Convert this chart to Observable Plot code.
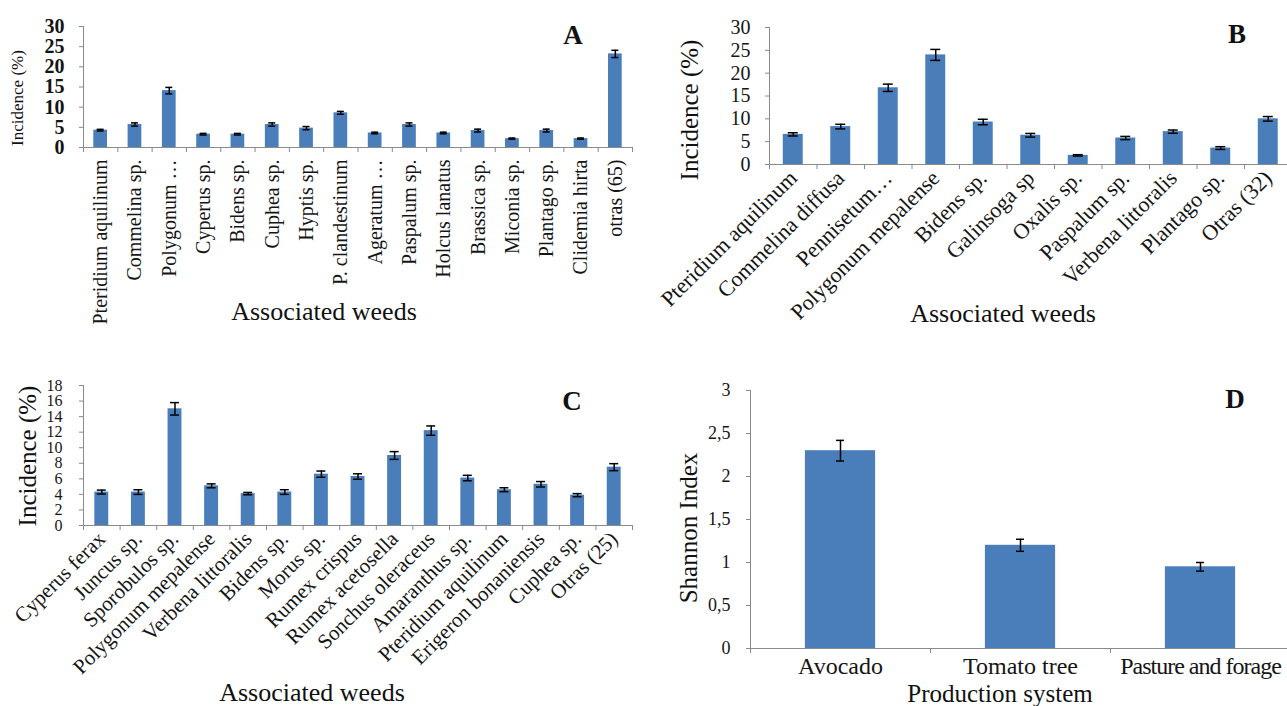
<!DOCTYPE html>
<html><head><meta charset="utf-8">
<script src="https://cdn.jsdelivr.net/npm/d3@7"></script>
<script src="https://cdn.jsdelivr.net/npm/@observablehq/plot@0.6"></script>
<style>
html,body{margin:0;padding:0;background:#fff;overflow:hidden;}
#root{position:relative;width:1287px;height:706px;overflow:hidden;background:#fff;}
#root, #root *, #root svg text{font-family:'Liberation Serif','Times New Roman',serif !important;}
.panel{position:absolute;}
.lab{position:absolute;white-space:nowrap;color:#111;line-height:1;}
</style></head><body><div id="root"></div>
<script>
// ---- Panel A: avocado weeds ----
const weedsA = ["Pteridium aquilinum","Commelina sp.","Polygonum …","Cyperus sp.","Bidens sp.","Cuphea sp.","Hyptis sp.","P. clandestinum","Ageratum …","Paspalum sp.","Holcus lanatus","Brassica sp.","Miconia sp.","Plantago sp.","Clidemia hirta","otras (65)"];
const incidenceA = [4.3, 5.7, 14.1, 3.3, 3.3, 5.7, 4.8, 8.6, 3.6, 5.7, 3.6, 4.2, 2.2, 4.2, 2.2, 23.2];
const errorA = [0.2, 0.4, 0.8, 0.2, 0.2, 0.4, 0.4, 0.35, 0.2, 0.4, 0.2, 0.35, 0.15, 0.35, 0.15, 0.9];
const ticksA = [0, 5, 10, 15, 20, 25, 30];

// ---- Panel B: tomato tree weeds ----
const weedsB = ["Pteridium aquilinum","Commelina diffusa","Pennisetum…","Polygonum mepalense","Bidens sp.","Galinsoga sp","Oxalis sp.","Paspalum sp.","Verbena littoralis","Plantago sp.","Otras (32)"];
const incidenceB = [6.6, 8.3, 16.8, 24.0, 9.3, 6.4, 2.0, 5.8, 7.2, 3.6, 10.0];
const errorB = [0.35, 0.5, 0.8, 1.2, 0.6, 0.4, 0.15, 0.35, 0.35, 0.3, 0.5];
const ticksB = [0, 5, 10, 15, 20, 25, 30];

// ---- Panel C: pasture and forage weeds ----
const weedsC = ["Cyperus ferax","Juncus sp.","Sporobulos sp.","Polygonum mepalense","Verbena littoralis","Bidens sp.","Morus sp.","Rumex crispus","Rumex acetosella","Sonchus oleraceus","Amaranthus sp.","Pteridium aquilinum","Erigeron bonaniensis","Cuphea sp.","Otras (25)"];
const incidenceC = [4.3, 4.3, 15.0, 5.1, 4.1, 4.3, 6.6, 6.3, 9.0, 12.2, 6.1, 4.6, 5.3, 3.9, 7.5];
const errorC = [0.25, 0.3, 0.8, 0.25, 0.15, 0.3, 0.4, 0.35, 0.5, 0.6, 0.35, 0.25, 0.35, 0.2, 0.45];
const ticksC = [0, 2, 4, 6, 8, 10, 12, 14, 16, 18];

// ---- Panel D: Shannon index per production system ----
const systemsD = ["Avocado","Tomato tree","Pasture and forage"];
const shannonD = [2.3, 1.2, 0.95];
const errorD = [0.12, 0.07, 0.05];
const ticksD = [0, 0.5, 1, 1.5, 2, 2.5, 3];

const SERIF = "'Liberation Serif','Times New Roman',serif";
const BLUE = "#4a7ebb";
const AXIS = "#8a8a8a";
const root = document.getElementById("root");

function barPanel(o) {
  const n = o.cats.length;
  const rows = o.cats.map((c, i) => ({i, c, v: o.vals[i], e: o.errs[i]}));
  const fw = o.width - o.ml - o.mr;
  const cap = o.capPx / (fw / n);
  const half = o.barFrac / 2;
  const svg = Plot.plot({
    width: o.width, height: o.height,
    marginLeft: o.ml, marginRight: o.mr, marginTop: o.mt, marginBottom: o.mb,
    style: {fontFamily: SERIF, background: "transparent", overflow: "visible"},
    x: {type: "linear", domain: [0, n]},
    y: {domain: [0, o.yTicks[o.yTicks.length - 1]]},
    marks: [
      Plot.rectY(rows, {x1: d => d.i + 0.5 - half, x2: d => d.i + 0.5 + half, y1: 0, y2: "v", fill: BLUE}),
      Plot.ruleX([0], {stroke: AXIS}),
      Plot.ruleY([0], {stroke: AXIS}),
      Plot.axisY({ticks: o.yTicks, tickSize: 4, tickPadding: o.ytp, tickFormat: o.yFormat, fontSize: o.yFont, fontWeight: o.yWeight, stroke: AXIS, fill: "#151515", label: null}),
      Plot.axisX({ticks: d3.range(n + 1), tickSize: 5, tickFormat: () => "", stroke: AXIS, label: null}),
      Plot.axisX({ticks: d3.range(n).map(i => i + 0.5), tickSize: 0, tickPadding: o.xtp, tickRotate: o.rot, tickFormat: t => o.cats[Math.floor(t)], fontSize: o.xFont, fill: "#151515", label: null}),
      Plot.ruleX(rows, {x: d => d.i + 0.5, y1: d => d.v - d.e, y2: d => d.v + d.e, stroke: "#000", strokeWidth: 1.5}),
      Plot.ruleY(rows, {y: d => d.v + d.e, x1: d => d.i + 0.5 - cap, x2: d => d.i + 0.5 + cap, stroke: "#000", strokeWidth: 1.5}),
      Plot.ruleY(rows, {y: d => d.v - d.e, x1: d => d.i + 0.5 - cap, x2: d => d.i + 0.5 + cap, stroke: "#000", strokeWidth: 1.5})
    ]
  });
  svg.classList.add("panel");
  svg.style.left = o.left + "px";
  svg.style.top = o.top + "px";
  if (o.condense) {
    svg.querySelectorAll("text").forEach(t => {
      if (o.condense[t.textContent] != null) t.style.letterSpacing = o.condense[t.textContent] + "px";
    });
  }
  root.appendChild(svg);
}

function lab(text, cx, cy, size, rot, weight) {
  const d = document.createElement("div");
  d.className = "lab";
  d.textContent = text;
  d.style.fontSize = size + "px";
  d.style.fontWeight = weight || "normal";
  d.style.left = cx + "px";
  d.style.top = cy + "px";
  d.style.transform = `translate(-50%,-50%) rotate(${rot || 0}deg)`;
  root.appendChild(d);
}

barPanel({cats: weedsA, vals: incidenceA, errs: errorA, yTicks: ticksA,
  left: 0, top: 0, width: 643, height: 335, ml: 83, mr: 11, mt: 26, mb: 188,
  ytp: 15, yFont: 20, yWeight: "bold", xtp: 12, xFont: 20, rot: -90, barFrac: 0.4, capPx: 3.5});
barPanel({cats: weedsB, vals: incidenceB, errs: errorB, yTicks: ticksB,
  left: 643, top: 0, width: 650, height: 335, ml: 126, mr: 1.5, mt: 27, mb: 171,
  ytp: 15, yFont: 20, xtp: 10, xFont: 22, rot: -45, barFrac: 0.42, capPx: 5});
barPanel({cats: weedsC, vals: incidenceC, errs: errorC, yTicks: ticksC,
  left: 0, top: 355, width: 643, height: 351, ml: 83, mr: 11, mt: 30, mb: 181,
  ytp: 17, yFont: 16, xtp: 10, xFont: 21, rot: -45, barFrac: 0.38, capPx: 4.5});
barPanel({cats: systemsD, vals: shannonD, errs: errorD, yTicks: ticksD, yFormat: d => String(d).replace(".", ","),
  left: 643, top: 355, width: 650, height: 351, ml: 107, mr: 3, mt: 35, mb: 58,
  ytp: 16, yFont: 18, xtp: 8, xFont: 24, rot: 0, barFrac: 0.39, capPx: 4,
  condense: {"Pasture and forage": -1}});

lab("Incidence (%)", 17, 98, 17, -90);
lab("Associated weeds", 324, 312, 26);
lab("A", 573, 35, 27, 0, "bold");

lab("Incidence (%)", 689, 110, 25, -90);
lab("Associated weeds", 1003, 314, 26);
lab("B", 1237, 34, 27, 0, "bold");

lab("Incidence (%)", 27, 456, 25, -90);
lab("Associated weeds", 312, 693, 26);
lab("C", 572, 401, 27, 0, "bold");

lab("Shannon Index", 688, 528, 25, -90);
lab("Production system", 1000, 693, 25);
lab("D", 1235, 399, 27, 0, "bold");
</script></body></html>
